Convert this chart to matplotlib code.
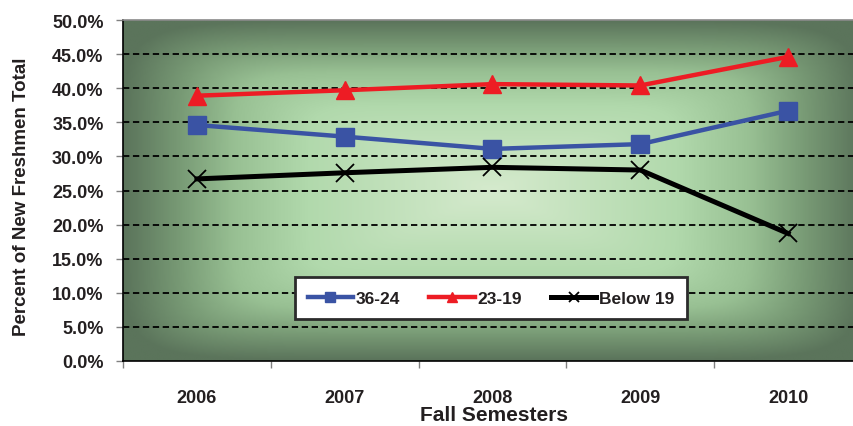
import numpy as np
import matplotlib
matplotlib.use("Agg")
import matplotlib.pyplot as plt
from matplotlib.colors import LinearSegmentedColormap

plt.rcParams['font.family'] = ['Liberation Sans', 'DejaVu Sans']
plt.rcParams['font.weight'] = 'bold'

years = ["2006", "2007", "2008", "2009", "2010"]
s_36_24 = [34.6, 32.9, 31.1, 31.8, 36.7]
s_23_19 = [38.9, 39.7, 40.6, 40.4, 44.6]
s_below19 = [26.7, 27.6, 28.4, 28.0, 18.7]
yticks = [0, 5, 10, 15, 20, 25, 30, 35, 40, 45, 50]

W, H = 854, 427
fig = plt.figure(figsize=(W / 100, H / 100), dpi=100)
fig.patch.set_facecolor("white")

# plot area in pixels
left, right, top, bottom = 123, 862, 21, 362
ax = fig.add_axes([left / W, (H - bottom) / H, (right - left) / W, (bottom - top) / H])

# green rectangular "from center" gradient background
nx, ny = 400, 200
u = np.linspace(-1, 1, nx)
v = np.linspace(-1, 1, ny)
U, V = np.meshgrid(u, v)
t = (np.abs(U) ** 8 + np.abs(V) ** 8) ** (1 / 8)
t = np.clip(t, 0, 1)
cmap = LinearSegmentedColormap.from_list(
    "bg", [(0.0, "#d5eacd"), (0.5, "#b1d9ac"), (0.7, "#98c093"),
           (0.85, "#789a75"), (1.0, "#5b745b")], N=256)
ax.imshow(t, cmap=cmap, extent=[-0.5, 4.5, 0, 50], aspect="auto",
          interpolation="bilinear", zorder=0, vmin=0, vmax=1)

x = np.arange(len(years))
for yv in yticks[1:-1]:
    ax.axhline(yv, color="black", lw=1.3, ls=(0, (3.5, 2)), zorder=1)

ax.plot(x, s_36_24, color="#3a53a4", lw=3.2, marker="s", ms=12.5,
        label="36-24", zorder=3)
ax.plot(x, s_23_19, color="#ed1c24", lw=3.2, marker="^", ms=13,
        label="23-19", zorder=3)
ax.plot(x, s_below19, color="black", lw=3.6, marker="x", ms=13, mew=1.3,
        label="Below 19", zorder=3)

ax.set_xlim(-0.5, 4.5)
ax.set_ylim(0, 50)
ax.set_yticks(yticks)
ax.set_yticklabels(["{:.1f}%".format(v) for v in yticks])
ax.set_xticks(x)
ax.set_xticklabels(years)
ax.set_xticks(np.arange(-0.5, 5, 1), minor=True)
ax.tick_params(axis="x", which="major", length=0, pad=20, labelsize=13,
               labelcolor="#231f20")
ax.tick_params(axis="x", which="minor", length=5, width=1, color="#808080")
ax.tick_params(axis="y", length=5, width=1, color="#808080", pad=9,
               labelsize=13, labelcolor="#231f20")

for side in ["top", "right"]:
    ax.spines[side].set_visible(False)
ax.spines["left"].set_color("black")
ax.spines["left"].set_linewidth(1.2)
ax.spines["bottom"].set_color("black")
ax.spines["bottom"].set_linewidth(1.2)
ax.plot([-0.5, 4.5], [50, 50], color="#8a8a8a", lw=1.2, clip_on=False, zorder=4)

fig.text(22 / W, (H - 197) / H, "Percent of New Freshmen Total", rotation=90,
         ha="center", va="center", fontsize=13.5, color="#231f20")
fig.text(494 / W, (H - 416) / H, "Fall Semesters", ha="center", va="center",
         fontsize=15, color="#231f20")

leg = ax.legend(loc="center", bbox_to_anchor=(491 / W, (H - 299) / H),
                bbox_transform=fig.transFigure, ncol=3, fontsize=12.5,
                frameon=True, fancybox=False, markerscale=0.55,
                handlelength=2.6, columnspacing=1.7, handletextpad=0.15,
                borderpad=0.75)
leg.get_frame().set_edgecolor("#2b2b2b")
leg.get_frame().set_linewidth(2.0)
leg.get_frame().set_facecolor("white")
leg.get_frame().set_alpha(1)
for txt in leg.get_texts():
    txt.set_color("#231f20")

fig.savefig("out.png", dpi=100)
